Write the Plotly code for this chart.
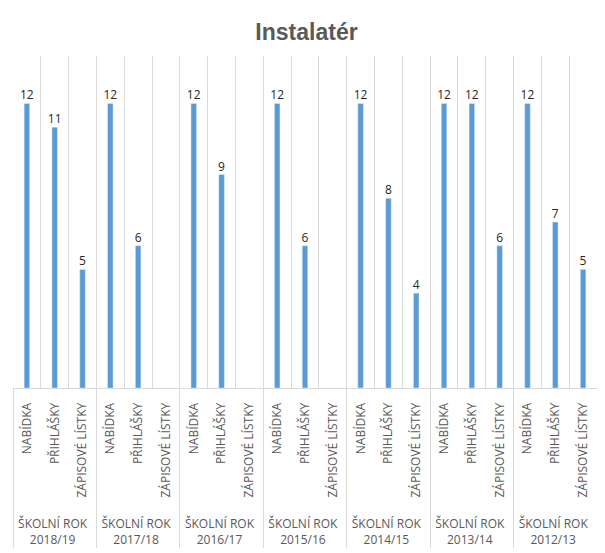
import plotly.graph_objects as go

# Data
years = ["ŠKOLNÍ ROK<br>2018/19", "ŠKOLNÍ ROK<br>2017/18", "ŠKOLNÍ ROK<br>2016/17",
         "ŠKOLNÍ ROK<br>2015/16", "ŠKOLNÍ ROK<br>2014/15", "ŠKOLNÍ ROK<br>2013/14",
         "ŠKOLNÍ ROK<br>2012/13"]
categories = ["NABÍDKA", "PŘIHLÁŠKY", "ZÁPISOVÉ LÍSTKY"]
nabidka = [12, 12, 12, 12, 12, 12, 12]
prihlasky = [11, 6, 9, 6, 8, 12, 7]
zapisove = [5, None, None, None, 4, 6, 5]

# Build multicategory x (leading <br> pushes the year labels lower)
x_outer, x_inner, y_vals = [], [], []
for i, yr in enumerate(years):
    for cat, vals in zip(categories, [nabidka, prihlasky, zapisove]):
        x_outer.append("<br>" + yr)
        x_inner.append(cat)
        y_vals.append(vals[i])

trace = go.Bar(x=[x_outer, x_inner],
               y=y_vals,
               text=[("" if v is None else str(v)) for v in y_vals],
               textposition="outside",
               constraintext="none",
               textfont=dict(family="Open Sans", size=12, color="#262626"),
               cliponaxis=False,
               marker=dict(color="#5B9BD5"))

# page body has an 8px margin, so the figure is 8px smaller than the window
layout = go.Layout(
    title=dict(text="<b>Instalatér</b>", x=0.5, xanchor="center",
               y=1 - 24 / 545, yanchor="middle",
               font=dict(family="Liberation Sans", size=23, color="#595959")),
    width=597, height=545,
    margin=dict(l=5, r=8, t=48, b=165, autoexpand=False),
    plot_bgcolor="white", paper_bgcolor="white",
    bargap=0.8,
    showlegend=False,
    xaxis=dict(type="multicategory", tickson="boundaries", automargin=False,
               showgrid=True, gridcolor="#D9D9D9", gridwidth=1,
               showline=True, linecolor="#D9D9D9",
               ticks="", tickangle=-90, ticklabelstandoff=9,
               showdividers=True, dividercolor="#D9D9D9", dividerwidth=1,
               tickfont=dict(family="Open Sans", size=12, color="#595959")),
    yaxis=dict(range=[0, 14], visible=False, showgrid=False),
)

fig = go.Figure(data=[trace], layout=layout)
fig.write_html("out.html")
